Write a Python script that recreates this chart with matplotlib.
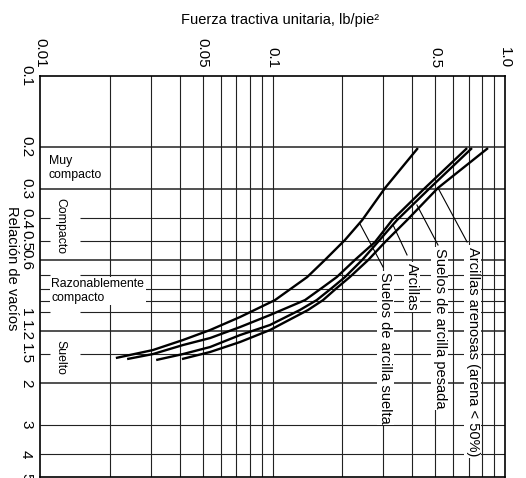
import matplotlib

matplotlib.use("Agg")
import matplotlib.pyplot as plt
from matplotlib.ticker import NullLocator

plt.rcParams["font.family"] = ["Liberation Sans", "DejaVu Sans"]

# --- Curves: unit tractive force (lb/ft2) vs void ratio ---
suelta_tau = [0.0212, 0.0306, 0.0412, 0.0539, 0.0725, 0.1025, 0.141, 0.168, 0.205, 0.243, 0.305, 0.422]
suelta_e = [1.566, 1.449, 1.314, 1.192, 1.050, 0.890, 0.711, 0.602, 0.495, 0.408, 0.298, 0.202]

arcillas_tau = [0.0237, 0.0306, 0.0412, 0.0539, 0.0725, 0.0975, 0.138, 0.163, 0.189, 0.226, 0.276, 0.327, 0.453, 0.687]
arcillas_e = [1.582, 1.507, 1.380, 1.289, 1.158, 1.030, 0.890, 0.791, 0.711, 0.602, 0.505, 0.408, 0.298, 0.202]

pesada_tau = [0.0316, 0.0412, 0.0539, 0.0725, 0.0975, 0.131, 0.155, 0.180, 0.205, 0.243, 0.284, 0.343, 0.476, 0.721]
pesada_e = [1.597, 1.507, 1.407, 1.252, 1.135, 0.981, 0.890, 0.791, 0.711, 0.602, 0.505, 0.408, 0.298, 0.202]

arenosas_tau = [0.0408, 0.0539, 0.0725, 0.0975, 0.142, 0.165, 0.189, 0.215, 0.258, 0.305, 0.379, 0.515, 0.845]
arenosas_e = [1.582, 1.477, 1.340, 1.192, 0.981, 0.890, 0.791, 0.711, 0.602, 0.505, 0.408, 0.298, 0.202]

# --- Axis ticks / grid ---
x_ticks = [0.01, 0.05, 0.1, 0.5, 1.0]
x_labels = ["0.01", "0.05", "0.1", "0.5", "1.0"]
y_ticks = [0.1, 0.2, 0.3, 0.4, 0.5, 0.6, 1, 1.2, 1.5, 2, 3, 4, 5]
y_labels = ["0.1", "0.2", "0.3", "0.4", "0.5", "0.6", "1", "1.2", "1.5", "2", "3", "4", "5"]

grid_x = [0.02, 0.03, 0.04, 0.05, 0.06, 0.07, 0.08, 0.09, 0.1,
          0.2, 0.3, 0.4, 0.5, 0.6, 0.7, 0.8, 0.9]
grid_y_bounds = [0.2, 0.3, 0.6, 1.2, 2.0]
grid_y_inner = [0.4, 0.5, 0.7, 0.8, 0.9, 1.0, 1.5]
grid_y_low = [3, 4]

# --- Soil compaction classes (label, x, e, rotation, ha) ---
classes = [
    ("Muy\ncompacto", 0.0109, 0.245, 0, "left"),
    ("Compacto", 0.0122, 0.432, 270, "center"),
    ("Razonablemente\ncompacto", 0.0112, 0.815, 0, "left"),
    ("Suelto", 0.0122, 1.55, 270, "center"),
]

fig = plt.figure(figsize=(5.26, 4.78), dpi=100)
ax = fig.add_axes([40 / 526, 1 / 478, 465 / 526, 401 / 478])
ax.set_xscale("log")
ax.set_yscale("log")
ax.set_xlim(0.01, 1.0)
ax.set_ylim(5, 0.1)

gc = "#222222"
for v in grid_x:
    ax.axvline(v, color=gc, lw=0.8, zorder=1)
for v in grid_y_bounds:
    ax.hlines(v, 0.01, 1.0, color=gc, lw=1.1, zorder=1)
for v in grid_y_inner:
    ax.hlines(v, 0.0148, 1.0, color=gc, lw=0.8, zorder=1)
    ax.hlines(v, 0.01, 0.011, color=gc, lw=0.8, zorder=1)
for v in grid_y_low:
    ax.hlines(v, 0.01, 1.0, color=gc, lw=0.8, zorder=1)

# --- curves ---
for t, e in [(suelta_tau, suelta_e), (arcillas_tau, arcillas_e),
             (pesada_tau, pesada_e), (arenosas_tau, arenosas_e)]:
    ax.plot(t, e, color="black", lw=1.7, zorder=4, solid_capstyle="butt")

box = dict(boxstyle="square,pad=0.1", fc="white", ec="none")

# curve labels with leader lines
labels = [
    ("Suelos de arcilla suelta", 0.305, 0.677, (0.238, 0.299), (0.424, 0.645)),
    ("Arcillas", 0.398, 0.620, (0.330, 0.379), (0.428, 0.573)),
    ("Suelos de arcilla pesada", 0.525, 0.536, (0.418, 0.515), (0.352, 0.520)),
    ("Arcillas arenosas (arena < 50%)", 0.728, 0.530, (0.515, 0.687), (0.298, 0.505)),
]
for txt, x, y, lx, ly in labels:
    ax.text(x, y, txt, rotation=270, ha="center", va="top", fontsize=10.5,
            bbox=box, zorder=3)
    ax.plot(lx, ly, color="black", lw=0.8, zorder=4)

for txt, x, y, rot, ha in classes:
    ax.text(x, y, txt, rotation=rot, ha=ha, va="center", fontsize=8.8,
            linespacing=1.15, bbox=box, zorder=3)

# --- ticks ---
ax.xaxis.tick_top()
ax.set_xticks(x_ticks, labels=x_labels, rotation=270)
ax.set_yticks(y_ticks, labels=y_labels, rotation=270)
ax.xaxis.set_minor_locator(NullLocator())
ax.yaxis.set_minor_locator(NullLocator())
ax.tick_params(axis="both", which="both", length=0, labelsize=11)
ax.tick_params(axis="x", pad=6)
ax.tick_params(axis="y", pad=5)
for lab in ax.get_yticklabels():
    lab.set_va("center")
for s in ax.spines.values():
    s.set_linewidth(1.2)

fig.text(280 / 526, 1 - 20 / 478, "Fuerza tractiva unitaria, lb/pie²",
         ha="center", va="center", fontsize=10.5)
fig.text(12 / 526, 1 - 268 / 478, "Relación de vacíos", rotation=270,
         ha="center", va="center", fontsize=10.5)

fig.savefig("out.png", dpi=100)
